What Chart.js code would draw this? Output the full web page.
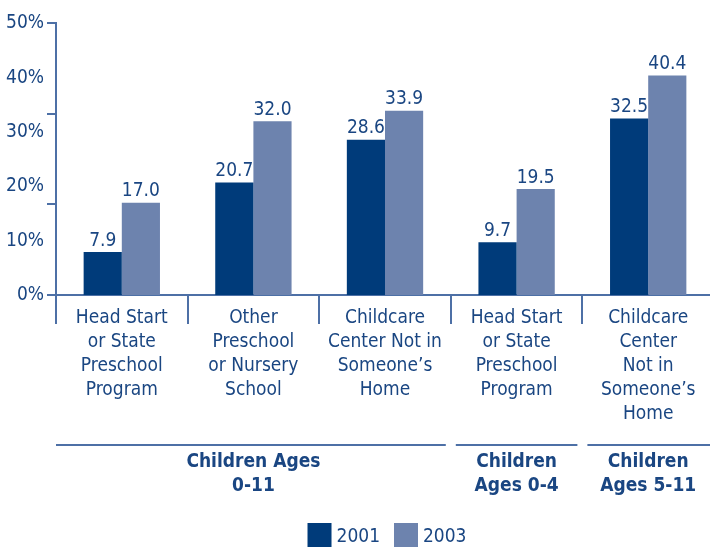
<!DOCTYPE html>
<html>
<head>
<meta charset="utf-8">
<script src="https://cdn.jsdelivr.net/npm/chart.js@4.4.1/dist/chart.umd.min.js"></script>
<style>
  html, body { margin:0; padding:0; background:#fff; overflow:hidden; }
  #wrap { width:714px; height:548px; }
</style>
</head>
<body>
<div id="wrap"><canvas id="chart"></canvas></div>
<script>
// data
const categories = [
  ['Head Start', 'or State', 'Preschool', 'Program'],
  ['Other', 'Preschool', 'or Nursery', 'School'],
  ['Childcare', 'Center Not in', 'Someone\u2019s', 'Home'],
  ['Head Start', 'or State', 'Preschool', 'Program'],
  ['Childcare', 'Center', 'Not in', 'Someone\u2019s', 'Home']
];
const series2001 = [7.9, 20.7, 28.6, 9.7, 32.5];
const series2003 = [17.0, 32.0, 33.9, 19.5, 40.4];
const seriesNames = ['2001', '2003'];
const yTicks = [0, 10, 20, 30, 40, 50];
const yMarkValues = [0, 16.7, 33.3, 50];   // the odd little marks on the y axis
const groupLabels = [['Children Ages', '0-11'], ['Children', 'Ages 0-4'], ['Children', 'Ages 5-11']];
const groupSpans = [[0, 2], [3, 3], [4, 4]];  // first and last category of each group

const DARK = '#003b7a', LIGHT = '#6d83ae';
const TEXT = '#1a4682', AXIS = '#4d70a6';
const FONT = "'DejaVu Sans Condensed', 'Liberation Sans Narrow', sans-serif";

// value labels above bars
const valueLabels = {
  id: 'valueLabels',
  afterDatasetsDraw(chart){
    const ctx = chart.ctx;
    ctx.save();
    ctx.font = '19px ' + FONT;
    ctx.fillStyle = TEXT;
    ctx.textAlign = 'center';
    ctx.textBaseline = 'bottom';
    chart.data.datasets.forEach((ds, di) => {
      chart.getDatasetMeta(di).data.forEach((bar, i) => {
        ctx.fillText(ds.data[i].toFixed(1), bar.x, bar.y - 2);
      });
    });
    ctx.restore();
  }
};

// category separators, y marks, group rules, group names and legend
const extras = {
  id: 'extras',
  afterDraw(chart){
    const ctx = chart.ctx, x = chart.scales.x, y = chart.scales.y;
    const area = chart.chartArea;
    const bottom = area.bottom;
    ctx.save();
    ctx.strokeStyle = AXIS;
    ctx.lineWidth = 2;
    // separators between categories
    for (let i = 0; i <= categories.length; i++){
      const px = Math.round(x.getPixelForValue(i - 0.5));
      ctx.beginPath(); ctx.moveTo(px, bottom); ctx.lineTo(px, bottom + 29); ctx.stroke();
    }
    // marks on y axis
    yMarkValues.forEach(v => {
      const py = Math.round(y.getPixelForValue(v));
      ctx.beginPath(); ctx.moveTo(area.left - 9, py); ctx.lineTo(area.left, py); ctx.stroke();
    });
    // group rules and labels
    const ruleY = bottom + 150;
    ctx.fillStyle = TEXT;
    ctx.font = 'bold 19px ' + FONT;
    ctx.textAlign = 'center';
    ctx.textBaseline = 'middle';
    groupSpans.forEach((sp, g) => {
      let x0 = x.getPixelForValue(sp[0] - 0.5);
      let x1 = x.getPixelForValue(sp[1] + 0.5);
      const cx = (x0 + x1) / 2;
      if (g > 0) x0 += 5;
      if (g < groupSpans.length - 1) x1 -= 5;
      ctx.beginPath(); ctx.moveTo(x0, ruleY); ctx.lineTo(x1, ruleY); ctx.stroke();
      groupLabels[g].forEach((line, li) => ctx.fillText(line, cx, ruleY + 17 + li * 24));
    });
    // legend
    ctx.font = '19px ' + FONT;
    ctx.textAlign = 'left';
    const colors = [DARK, LIGHT];
    const box = 24, gap = 5, between = 14;
    const widths = seriesNames.map(n => box + gap + ctx.measureText(n).width);
    const total = widths.reduce((a, b) => a + b, 0) + between * (seriesNames.length - 1);
    let lx = (area.left + area.right) / 2 + 2 - total / 2;
    const ly = bottom + 228;
    seriesNames.forEach((n, i) => {
      ctx.fillStyle = colors[i];
      ctx.fillRect(lx, ly, box, box);
      ctx.fillStyle = TEXT;
      ctx.fillText(n, lx + box + gap, ly + box / 2 + 2);
      lx += widths[i] + between;
    });
    ctx.restore();
  }
};

new Chart(document.getElementById('chart'), {
  type: 'bar',
  data: {
    labels: categories,
    datasets: [
      { label: seriesNames[0], data: series2001, backgroundColor: DARK },
      { label: seriesNames[1], data: series2003, backgroundColor: LIGHT }
    ]
  },
  options: {
    responsive: true,
    maintainAspectRatio: false,
    animation: false,
    layout: { padding: { top: 16, right: 0, bottom: 25, left: 0 } },
    datasets: { bar: { categoryPercentage: 0.58, barPercentage: 1.0 } },
    plugins: {
      tooltip: { enabled: false },
      legend: { display: false }
    },
    scales: {
      x: {
        grid: { display: false, drawTicks: false },
        border: { display: true, color: AXIS, width: 2 },
        ticks: {
          color: TEXT, padding: 11, maxRotation: 0, autoSkip: false,
          font: { family: FONT, size: 19, lineHeight: 1.26 }
        },
        afterFit(scale){ scale.height = 228; }
      },
      y: {
        min: 0, max: 50,
        afterBuildTicks(scale){ scale.ticks = yTicks.map(v => ({ value: v })); },
        grid: { display: false, drawTicks: false },
        border: { display: true, color: AXIS, width: 2 },
        ticks: {
          color: TEXT, padding: 12,
          font: { family: FONT, size: 19 },
          callback: v => v + '%'
        },
        afterFit(scale){ scale.width = 56; }
      }
    }
  },
  plugins: [valueLabels, extras]
});
</script>
</body>
</html>
